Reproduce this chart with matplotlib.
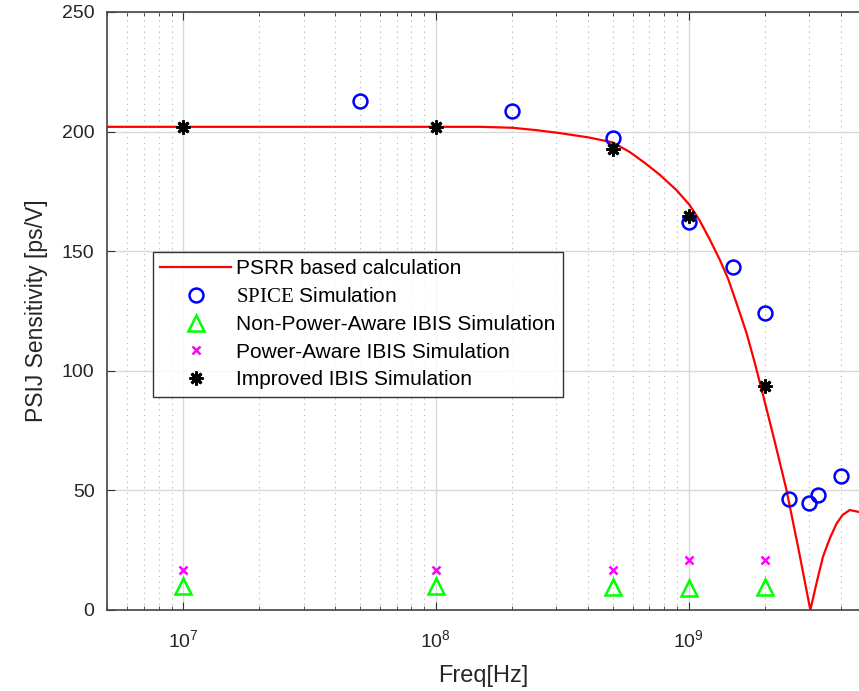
import matplotlib.pyplot as plt
import matplotlib.ticker as mticker

plt.rcParams['font.family'] = ['Liberation Sans', 'DejaVu Sans']
plt.rcParams['mathtext.fontset'] = 'custom'
plt.rcParams['mathtext.rm'] = 'Liberation Sans'
plt.rcParams['mathtext.sf'] = 'Liberation Serif'

# PSRR based calculation
psrr_f = [5e6, 3e7, 1e8, 1.49e8, 2.01e8, 2.5e8, 3.08e8, 4e8, 5e8, 5.84e8, 6.69e8, 7.68e8,
          8.94e8, 1.009e9, 1.106e9, 1.211e9, 1.327e9, 1.432e9, 1.55e9, 1.692e9, 1.825e9,
          1.968e9, 2.19e9, 2.438e9, 2.72e9, 3.03e9, 3.21e9, 3.4e9, 3.62e9, 3.85e9, 4.07e9,
          4.34e9, 4.71e9]
psrr_v = [202, 202, 202, 202, 201.6, 200.6, 199.4, 197.6, 195.5, 191.5, 187, 182,
          175.6, 169.3, 162.8, 155, 146.5, 138.5, 128, 116, 103.5,
          90, 70.5, 50.2, 25.5, 0, 11.5, 22.3, 30, 36.2, 39.8,
          41.8, 41]

# SPICE Simulation
spice_f = [5e7, 2e8, 5e8, 1e9, 1.5e9, 2e9, 2.5e9, 3e9, 3.25e9, 4e9]
spice_v = [213, 208.5, 197.5, 162, 143.5, 124, 46.4, 44.7, 48, 56]

# Non-Power-Aware IBIS Simulation
npa_f = [1e7, 1e8, 5e8, 1e9, 2e9]
npa_v = [10, 10, 9.5, 9.2, 9.5]

# Power-Aware IBIS Simulation
pa_f = [1e7, 1e8, 5e8, 1e9, 2e9]
pa_v = [16.7, 16.7, 16.7, 20.9, 20.9]

# Improved IBIS Simulation
imp_f = [1e7, 1e8, 5e8, 1e9, 2e9]
imp_v = [202, 202, 192.7, 164.7, 93.6]

fig = plt.figure(figsize=(8.59, 6.91), dpi=100)
ax = fig.add_axes([107 / 859, 1 - 610 / 691, 752 / 859, 598 / 691])

ax.plot(psrr_f, psrr_v, color='red', lw=1.6, label='PSRR based calculation')
ax.plot(spice_f, spice_v, ls='none', marker='o', ms=10, mfc='none', mec='blue', mew=1.8,
        label=r'$\mathsf{SPICE}$ Simulation')
ax.plot(npa_f, npa_v, ls='none', marker='^', ms=11, mfc='none', mec='#00ff00', mew=1.8,
        label='Non-Power-Aware IBIS Simulation')
ax.plot(pa_f, pa_v, ls='none', marker='x', ms=6, mec='magenta', mew=1.8,
        label='Power-Aware IBIS Simulation')
ax.plot(imp_f, imp_v, ls='none', marker=(8, 2, 0), ms=10, mec='black', mew=2,
        label='Improved IBIS Simulation')

ax.set_xscale('log')
ax.set_xlim(5e6, 4.72e9)
ax.set_ylim(0, 250)
ax.set_yticks([0, 50, 100, 150, 200, 250])
ax.xaxis.set_minor_locator(mticker.LogLocator(base=10, subs=range(2, 10), numticks=20))
ax.xaxis.set_minor_formatter(mticker.NullFormatter())

ax.grid(True, which='major', color='#d8d8d8', lw=1)
ax.grid(True, which='minor', axis='x', color='#b0b0b0', ls=(0, (1, 4)), lw=0.8)
ax.set_axisbelow(True)

ax.tick_params(which='both', direction='in', top=True, right=False, labelsize=14,
               colors='#333333', labelcolor='#262626')
ax.tick_params(which='major', length=6)
ax.tick_params(which='minor', length=3)
ax.tick_params(axis='x', pad=14)
ax.tick_params(axis='y', pad=9)
for s in ax.spines.values():
    s.set_color('#444444')
    s.set_linewidth(1.2)
ax.spines['right'].set_visible(False)

ax.set_xlabel('Freq[Hz]', fontsize=17, color='#262626', labelpad=10)
ax.set_ylabel('PSIJ Sensitivity [ps/V]', fontsize=16.5, color='#262626', labelpad=10)

leg = ax.legend(loc='upper left', bbox_to_anchor=(153 / 859, 1 - 252 / 691),
                bbox_transform=fig.transFigure, fontsize=15, frameon=True,
                fancybox=False, edgecolor='black', handlelength=3.4, handletextpad=0.25,
                labelspacing=0.42, borderpad=0.35, borderaxespad=0)
leg.get_frame().set_linewidth(1.0)

fig.savefig('out.png', dpi=100)
